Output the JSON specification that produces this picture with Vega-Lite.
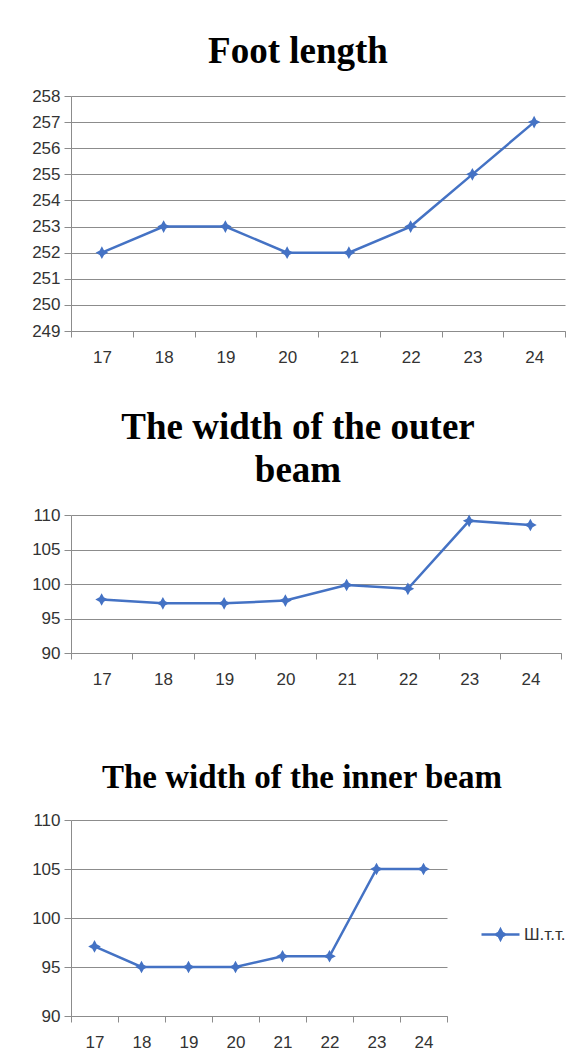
{
  "$schema": "https://vega.github.io/schema/vega-lite/v6.json",
  "padding": {"left": 31, "top": 33, "right": 0, "bottom": 0},
  "background": "white",
  "spacing": 75,
  "datasets": {
    "foot": [
      {"age": 17, "value": 252}, {"age": 18, "value": 253}, {"age": 19, "value": 253}, {"age": 20, "value": 252},
      {"age": 21, "value": 252}, {"age": 22, "value": 253}, {"age": 23, "value": 255}, {"age": 24, "value": 257}
    ],
    "outer": [
      {"age": 17, "value": 97.75}, {"age": 18, "value": 97.2}, {"age": 19, "value": 97.2}, {"age": 20, "value": 97.6},
      {"age": 21, "value": 99.85}, {"age": 22, "value": 99.3}, {"age": 23, "value": 109.15}, {"age": 24, "value": 108.55}
    ],
    "inner": [
      {"age": 17, "value": 97.1, "series": "Ш.т.т."}, {"age": 18, "value": 95, "series": "Ш.т.т."},
      {"age": 19, "value": 95, "series": "Ш.т.т."}, {"age": 20, "value": 95, "series": "Ш.т.т."},
      {"age": 21, "value": 96.1, "series": "Ш.т.т."}, {"age": 22, "value": 96.1, "series": "Ш.т.т."},
      {"age": 23, "value": 105, "series": "Ш.т.т."}, {"age": 24, "value": 105, "series": "Ш.т.т."}
    ]
  },
  "config": {
    "view": {"stroke": null},
    "font": "Liberation Sans",
    "title": {"font": "Liberation Serif", "fontSize": 37, "fontWeight": "bold", "color": "#000000", "anchor": "middle", "frame": "group", "offset": 16},
    "axis": {
      "labelFont": "Liberation Sans", "labelFontSize": 17, "labelColor": "#333333",
      "domainColor": "#8c8c8c", "tickColor": "#8c8c8c", "gridColor": "#8c8c8c",
      "domainWidth": 1, "tickWidth": 1, "gridWidth": 1, "title": null
    },
    "axisX": {"grid": false, "tickSize": 6, "labelPadding": 12, "labelAngle": 0, "tickBand": "extent"},
    "axisY": {"grid": true, "tickSize": 7, "labelPadding": 4},
    "legend": {"labelFont": "Liberation Sans", "labelFontSize": 17, "labelColor": "#333333"}
  },
  "resolve": {"legend": {"color": "independent"}},
  "vconcat": [
    {
      "spacing": 44,
      "vconcat": [
        {
          "data": {"name": "foot"},
          "title": {"text": "Foot length", "dx": -20},
          "width": 494, "height": 235,
          "mark": {"type": "line", "color": "#4472C4", "strokeWidth": 2.5,
            "point": {"filled": true, "color": "#4472C4", "size": 160, "shape": "M0,-1L0.35,-0.35L1,0L0.35,0.35L0,1L-0.35,0.35L-1,0L-0.35,-0.35Z"}},
          "encoding": {
            "x": {"field": "age", "type": "ordinal", "scale": {"type": "band", "paddingInner": 0, "paddingOuter": 0}},
            "y": {"field": "value", "type": "quantitative", "scale": {"domain": [249, 258], "nice": false, "zero": false},
              "axis": {"values": [249, 250, 251, 252, 253, 254, 255, 256, 257, 258]}}
          }
        },
        {
          "data": {"name": "outer"},
          "title": {"text": ["The width of the outer", "beam"], "dx": -18, "lineHeight": 43},
          "width": 490, "height": 138,
          "mark": {"type": "line", "color": "#4472C4", "strokeWidth": 2.5,
            "point": {"filled": true, "color": "#4472C4", "size": 160, "shape": "M0,-1L0.35,-0.35L1,0L0.35,0.35L0,1L-0.35,0.35L-1,0L-0.35,-0.35Z"}},
          "encoding": {
            "x": {"field": "age", "type": "ordinal", "scale": {"type": "band", "paddingInner": 0, "paddingOuter": 0}},
            "y": {"field": "value", "type": "quantitative", "scale": {"domain": [90, 110], "nice": false, "zero": false},
              "axis": {"values": [90, 95, 100, 105, 110]}}
          }
        }
      ]
    },
    {
      "data": {"name": "inner"},
      "title": {"text": "The width of the inner beam", "dx": 43, "fontSize": 33},
      "width": 376, "height": 196,
      "encoding": {
        "x": {"field": "age", "type": "ordinal", "scale": {"type": "band", "paddingInner": 0, "paddingOuter": 0}},
        "y": {"field": "value", "type": "quantitative", "scale": {"domain": [90, 110], "nice": false, "zero": false},
          "axis": {"values": [90, 95, 100, 105, 110]}}
      },
      "layer": [
        {"mark": {"type": "line", "color": "#4472C4", "strokeWidth": 2.5}},
        {"mark": {"type": "point", "filled": true, "opacity": 1, "size": 160, "shape": "M0,-1L0.35,-0.35L1,0L0.35,0.35L0,1L-0.35,0.35L-1,0L-0.35,-0.35Z"},
          "encoding": {"color": {"field": "series", "type": "nominal", "scale": {"range": ["#4472C4"]},
            "legend": {"title": null, "orient": "none", "legendX": 421, "legendY": 106, "padding": 0,
              "symbolType": "M-3.8,0L3.8,0M0,-1L0.35,-0.35L1,0L0.35,0.35L0,1L-0.35,0.35L-1,0L-0.35,-0.35Z",
              "symbolSize": 100, "symbolStrokeColor": "#4472C4", "symbolStrokeWidth": 2.5, "symbolFillColor": "#4472C4", "labelOffset": 15}}}}
      ]
    }
  ]
}
